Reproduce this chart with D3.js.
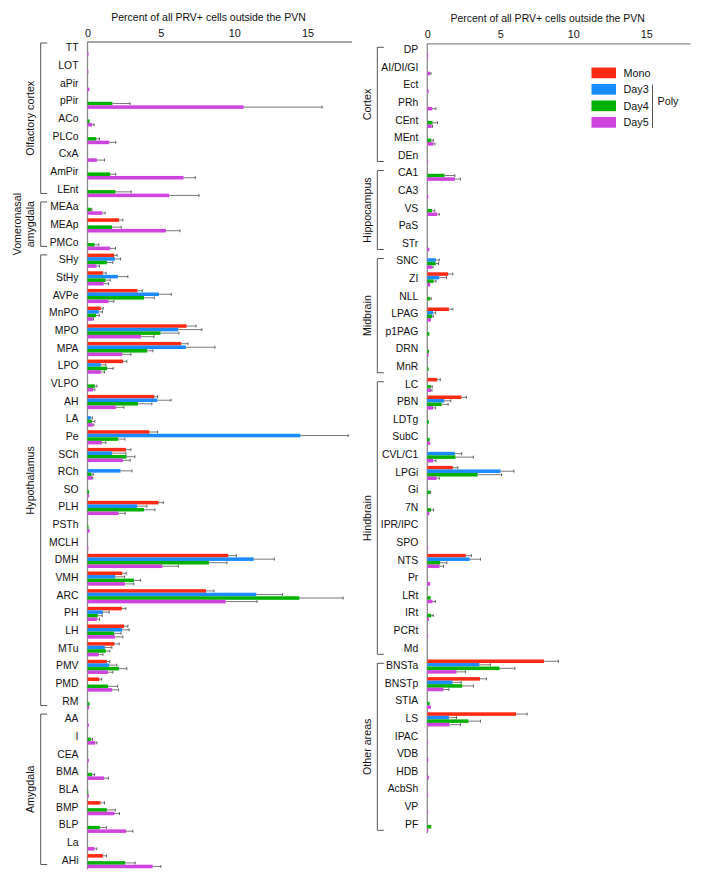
<!DOCTYPE html>
<html>
<head>
<meta charset="utf-8">
<script src="https://cdn.jsdelivr.net/npm/d3@7"></script>
<style>
  body { margin: 0; background: #fff; }
  svg text { font-family: "Liberation Sans", Arial, Helvetica, sans-serif; fill: #111; }
</style>
</head>
<body>
<svg id="chart" width="704" height="883"></svg>
<script>
// ---------------- DATA ----------------
const seriesNames = ["Mono", "Day3", "Day4", "Day5"];
const seriesColors = ["#ff2a14", "#1a8cff", "#00b100", "#cf44de"];
const xTicks = [0, 5, 10, 15];
const axisTitle = "Percent of all PRV+ cells outside the PVN";

// Left panel
const leftCategories = ["TT","LOT","aPir","pPir","ACo","PLCo","CxA","AmPir","LEnt",
  "MEAa","MEAp","PMCo",
  "SHy","StHy","AVPe","MnPO","MPO","MPA","LPO","VLPO","AH","LA","Pe","SCh","RCh","SO","PLH","PSTh","MCLH","DMH","VMH","ARC","PH","LH","MTu","PMV","PMD","RM",
  "AA","I","CEA","BMA","BLA","BMP","BLP","La","AHi"];
const leftMono = [0,0,0,0,0,0,0,0,0, 0,2.16,0,
  1.82,1.05,3.41,0.91,6.76,6.39,2.43,0,4.55,0,4.23,2.62,0,0,4.85,0,0,9.6,2.37,8.08,2.34,2.5,1.84,1.32,0.8,0,
  0,0,0,0,0,0.89,0,0,1.05];
const leftDay3 = [0,0,0,0,0,0,0,0,0, 0,0,0,
  1.87,2.07,4.87,0.77,6.19,6.71,0.91,0,4.76,0.23,14.52,1.68,2.25,0,3.39,0,0,11.33,1.89,11.51,1.05,2.37,1.18,1.48,0,0,
  0,0,0,0,0,0,0,0,0];
const leftDay4 = [0,0,0,1.7,0.14,0.6,0,1.55,1.91, 0.25,1.68,0.48,
  1.32,1.23,3.85,0.59,4.98,4.07,1.34,0.5,3.44,0.3,2.09,2.66,0.27,0.11,3.85,0.07,0,8.28,3.16,14.45,0.7,1.82,1.25,2.14,1.41,0.14,
  0,0.23,0,0.32,0.05,1.32,0.84,0,2.57];
const leftDay5 = [0.07,0.06,0.13,10.65,0.32,1.48,0.64,6.55,5.57, 1.02,5.35,1.55,
  0.61,1.11,1.43,0.36,3.64,2.37,0.91,0.39,1.93,0.36,0.98,2.41,0.32,0.11,2.12,0.14,0.05,5.1,2.55,9.42,0.64,1.87,0.77,1.39,1.68,0.11,
  0.09,0.52,0.09,1.14,0.09,1.84,2.64,0.48,4.44];
const leftMonoErr = [0,0,0,0,0,0,0,0,0, 0,0.25,0,
  0.2,0.22,0.32,0.16,0.64,0.46,0.25,0,0.23,0,0.55,0.34,0,0,0.32,0,0,0.55,0.27,0.54,0.28,0.25,0.32,0.2,0.16,0,
  0,0,0,0,0,0.27,0,0,0.25];
const leftDay3Err = [0,0,0,0,0,0,0,0,0, 0,0,0,
  0.38,0.68,0.84,0.25,1.61,1.98,0.34,0,0.93,0.11,3.25,0.94,0.78,0,0.66,0,0,1.41,0.64,1.78,0.43,0.47,0.48,0.52,0,0,
  0,0,0,0,0,0,0,0,0];
const leftDay4Err = [0,0,0,1.2,0,0.22,0,0.38,1.07, 0.05,0.62,0.29,
  0.41,0.32,0.7,0.21,1.25,0.39,0.41,0.14,0.95,0.2,0.46,0.57,0.12,0,0.75,0,0,1.23,0.46,2.98,0.3,0.46,0.27,0.54,0.64,0,
  0,0.11,0,0.16,0,0.57,0.46,0,0.68];
const leftDay5Err = [0,0,0,5.35,0.13,0.45,0.52,0.8,2.03, 0.18,0.95,0.36,
  0.21,0.32,0.37,0.05,0.89,0.59,0.25,0.11,0.55,0.07,0.27,0.5,0.04,0,0.45,0,0,1.09,0.61,2.14,0.18,0.54,0.28,0.34,0.44,0,
  0,0.12,0,0.29,0,0.34,0.45,0.16,0.56];
const leftGroups = [
  {label: ["Olfactory cortex"], first: 0, last: 8},
  {label: ["Vomeronasal", "amygdala"], first: 9, last: 11},
  {label: ["Hypothalamus"], first: 12, last: 37},
  {label: ["Amygdala"], first: 38, last: 46}
];

// Right panel
const rightCategories = ["DP","AI/DI/GI","Ect","PRh","CEnt","MEnt","DEn",
  "CA1","CA3","VS","PaS","STr",
  "SNC","ZI","NLL","LPAG","p1PAG","DRN","MnR",
  "LC","PBN","LDTg","SubC","CVL/C1","LPGi","Gi","7N","IPR/IPC","SPO","NTS","Pr","LRt","IRt","PCRt","Md",
  "BNSTa","BNSTp","STIA","LS","IPAC","VDB","HDB","AcbSh","VP","PF"];
const rightMono = [0,0,0,0,0,0,0, 0,0,0,0,0,
  0,1.43,0,1.48,0,0,0,
  0.68,2.34,0,0,0,1.75,0,0,0,0,2.64,0,0,0,0,0,
  8.0,3.61,0,6.09,0,0,0,0,0,0];
const rightDay3 = [0,0,0,0,0,0,0, 0,0,0,0,0,
  0.59,0.82,0,0.39,0,0,0,
  0,1.16,0,0,1.89,5.02,0,0,0,0,2.91,0,0,0,0,0,
  3.57,1.73,0,1.48,0,0,0,0,0,0];
const rightDay4 = [0,0,0,0,0.36,0.27,0, 1.18,0,0.32,0,0,
  0.57,0.43,0.18,0.32,0.14,0.11,0.09,
  0.25,0.98,0.11,0.16,1.93,3.45,0.18,0.25,0,0,0.89,0,0.23,0.27,0,0,
  4.95,2.39,0.16,2.82,0,0,0,0,0,0.27];
const rightDay5 = [0.01,0.18,0.09,0.34,0.3,0.41,0.05, 1.89,0.07,0.68,0,0.14,
  0.32,0.2,0,0.25,0,0.09,0,
  0.25,0.39,0,0.2,0.41,0.64,0,0.14,0,0.02,0.84,0.2,0.36,0.11,0.02,0,
  2.0,1.11,0.25,1.52,0.03,0.07,0.11,0.02,0.03,0.07];
const rightMonoErr = [0,0,0,0,0,0,0, 0,0,0,0,0,
  0,0.32,0,0.27,0,0,0,
  0.21,0.34,0,0,0,0.34,0,0,0,0,0.38,0,0,0,0,0,
  0.98,0.44,0,0.75,0,0,0,0,0,0];
const rightDay3Err = [0,0,0,0,0,0,0, 0,0,0,0,0,
  0.23,0.5,0,0.18,0,0,0,
  0,0.45,0,0,0.47,0.91,0,0,0,0,0.73,0,0,0,0,0,
  0.75,0.59,0,0.52,0,0,0,0,0,0];
const rightDay4Err = [0,0,0,0,0.34,0.14,0, 0.71,0,0.2,0,0,
  0.2,0.16,0.09,0.09,0,0,0,
  0.09,0.45,0,0,1.23,1.64,0.05,0.18,0,0,0.45,0,0,0.14,0,0,
  1.05,0.77,0,0.82,0,0,0,0,0,0];
const rightDay5Err = [0,0.07,0,0.25,0.06,0.11,0, 0.38,0,0.14,0,0,
  0.07,0,0,0,0,0,0,
  0.07,0.18,0,0,0.18,0.18,0,0,0,0,0.27,0,0.19,0,0,0,
  0.61,0.37,0,0.75,0,0,0,0,0,0];
const rightGroups = [
  {label: ["Cortex"], first: 0, last: 6},
  {label: ["Hippocampus"], first: 7, last: 11},
  {label: ["Midbrain"], first: 12, last: 18},
  {label: ["Hindbrain"], first: 19, last: 34},
  {label: ["Other areas"], first: 35, last: 44}
];

// ---------------- DRAW ----------------
const svg = d3.select("#chart");
const axisColor = "#8a8a8a";
const errColor = "#555";
const fs = 10.4;

function drawPanel(cfg) {
  const g = svg.append("g");
  const x = d3.scaleLinear().domain([0, 18]).range([cfg.x0, cfg.x1]);
  const y = d3.scaleBand().domain(cfg.categories).range([cfg.y0, cfg.y0 + cfg.step * cfg.categories.length]).padding(0);
  const inner = d3.scaleBand().domain(seriesNames).range([0.2, cfg.step * 0.815]).padding(0);

  // title
  g.append("text").attr("x", (x(0) + x(18)) / 2 - 11).attr("y", cfg.y0 - 24.5)
    .attr("text-anchor", "middle").attr("dy", "0.35em").attr("font-size", 10.5).text(axisTitle);

  // top axis
  const axis = d3.axisTop(x).tickValues(xTicks).tickSize(0).tickPadding(5).tickFormat(d3.format("d"));
  const ax = g.append("g").attr("transform", `translate(0,${cfg.y0})`).call(axis);
  ax.select(".domain").attr("stroke", axisColor).attr("stroke-width", 1.3);
  ax.selectAll("text").attr("font-size", 10.8).attr("fill", "#111")
    .attr("font-family", "Liberation Sans, Arial, sans-serif");

  // y axis line
  g.append("line").attr("x1", x(0)).attr("x2", x(0))
    .attr("y1", cfg.y0).attr("y2", y.range()[1] - 2)
    .attr("stroke", axisColor).attr("stroke-width", 1.3);

  // category labels
  g.selectAll("text.cat").data(cfg.categories).join("text")
    .attr("class", "cat")
    .attr("x", x(0) - 9)
    .attr("y", d => y(d) + inner.range()[1] / 2 - 1)
    .attr("dy", "0.35em")
    .attr("text-anchor", "end")
    .attr("font-size", fs)
    .text(d => d);

  // bars
  const rows = [];
  cfg.categories.forEach((c, i) => {
    seriesNames.forEach((s, k) => {
      rows.push({cat: c, s: s, k: k, v: cfg.values[k][i], e: cfg.errors[k][i]});
    });
  });
  const vis = rows.filter(r => r.v > 0);
  g.selectAll("rect.bar").data(vis).join("rect")
    .attr("class", "bar")
    .attr("x", x(0))
    .attr("y", r => y(r.cat) + inner(r.s))
    .attr("width", r => Math.max(0.8, x(r.v) - x(0)))
    .attr("height", inner.bandwidth())
    .attr("fill", r => seriesColors[r.k]);

  const errs = rows.filter(r => r.v > 0 && r.e > 0);
  g.selectAll("line.err").data(errs).join("line")
    .attr("class", "err")
    .attr("x1", r => x(r.v)).attr("x2", r => x(r.v + r.e))
    .attr("y1", r => y(r.cat) + inner(r.s) + inner.bandwidth() / 2)
    .attr("y2", r => y(r.cat) + inner(r.s) + inner.bandwidth() / 2)
    .attr("stroke", errColor).attr("stroke-width", 0.8);
  g.selectAll("line.cap").data(errs).join("line")
    .attr("class", "cap")
    .attr("x1", r => x(r.v + r.e)).attr("x2", r => x(r.v + r.e))
    .attr("y1", r => y(r.cat) + inner(r.s) + 0.3)
    .attr("y2", r => y(r.cat) + inner(r.s) + inner.bandwidth() - 0.3)
    .attr("stroke", errColor).attr("stroke-width", 0.9);

  // group brackets
  cfg.groups.forEach(grp => {
    const top = y(cfg.categories[grp.first]) + cfg.bTop;
    const bot = y(cfg.categories[grp.last]) + cfg.step + cfg.bBot;
    g.append("path")
      .attr("d", `M${cfg.bx + 6.5},${top}H${cfg.bx}V${bot}H${cfg.bx + 6.5}`)
      .attr("fill", "none").attr("stroke", "#555").attr("stroke-width", 1);
    const cy = (top + bot) / 2;
    const n = grp.label.length;
    grp.label.forEach((line, li) => {
      const lx = cfg.lx - (n - 1 - li) * 12.7;
      g.append("text")
        .attr("transform", `translate(${lx},${cy}) rotate(-90)`)
        .attr("text-anchor", "middle").attr("dy", "0.35em")
        .attr("font-size", fs + 0.3).text(line);
    });
  });
}

drawPanel({
  categories: leftCategories,
  values: [leftMono, leftDay3, leftDay4, leftDay5],
  errors: [leftMonoErr, leftDay3Err, leftDay4Err, leftDay5Err],
  groups: leftGroups,
  x0: 87.5, x1: 351.5, y0: 41.5, step: 17.66,
  bx: 40.7, lx: 30, bTop: 1.5, bBot: -7
});

drawPanel({
  categories: rightCategories,
  values: [rightMono, rightDay3, rightDay4, rightDay5],
  errors: [rightMonoErr, rightDay3Err, rightDay4Err, rightDay5Err],
  groups: rightGroups,
  x0: 427.3, x1: 690, y0: 43.3, step: 17.6,
  bx: 377.3, lx: 367, bTop: 4, bBot: -5
});

// legend
const legend = svg.append("g").attr("transform", "translate(591.5,67.5)");
const legendStep = 16.5;
seriesNames.forEach((s, k) => {
  legend.append("rect").attr("x", 0).attr("y", k * legendStep).attr("width", 24.5).attr("height", 10.7)
    .attr("fill", seriesColors[k]);
  legend.append("text").attr("x", 32).attr("y", k * legendStep + 5.5).attr("dy", "0.35em")
    .attr("font-size", 10.8).text(s);
});
legend.append("line").attr("x1", 61).attr("x2", 61).attr("y1", legendStep + 0.5).attr("y2", 3 * legendStep + 11)
  .attr("stroke", "#555").attr("stroke-width", 1);
legend.append("text").attr("x", 66).attr("y", 2 * legendStep + 0.5).attr("dy", "0.35em")
  .attr("font-size", 10.8).text("Poly");
</script>
</body>
</html>
